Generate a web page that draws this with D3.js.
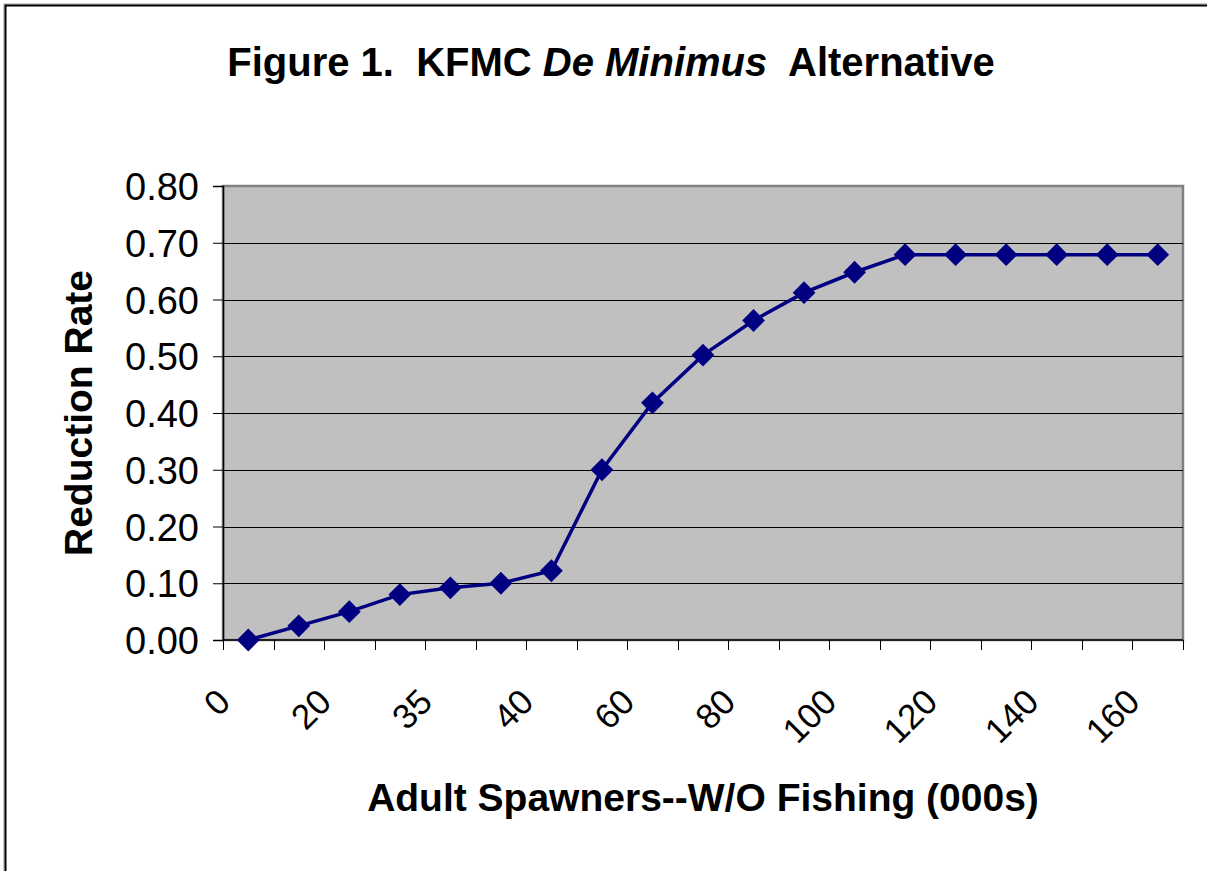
<!DOCTYPE html>
<html>
<head>
<meta charset="utf-8">
<script src="https://cdn.jsdelivr.net/npm/d3@7"></script>
<style>
  body { margin: 0; background: #fff; }
  svg text { font-family: "Liberation Sans", Arial, sans-serif; }
</style>
</head>
<body>
<div id="chart"></div>
<script>
// spawner categories (000s), only every other one is labelled on the axis
const categories = ["0", "10", "20", "30", "35", "38", "40", "50", "60", "70",
                    "80", "90", "100", "110", "120", "130", "140", "150", "160"];
const reduction = [0.00, 0.025, 0.05, 0.08, 0.092, 0.10, 0.122, 0.30, 0.418, 0.502,
                   0.563, 0.612, 0.648, 0.679, 0.679, 0.679, 0.679, 0.679, 0.679];
const yTicks = [0, 0.1, 0.2, 0.3, 0.4, 0.5, 0.6, 0.7, 0.8];

const W = 1207, H = 871;
const svg = d3.select("#chart").append("svg").attr("width", W).attr("height", H);

// outer chart border (runs off the bottom / right of the picture)
svg.append("rect").attr("x", 4).attr("y", 4).attr("width", W + 10).attr("height", H + 10)
    .attr("fill", "none").attr("stroke", "#999").attr("stroke-width", 1);
svg.append("rect").attr("x", 5.5).attr("y", 5.5).attr("width", W + 10).attr("height", H + 10)
    .attr("fill", "none").attr("stroke", "#000").attr("stroke-width", 2);

const pLeft = 223, pRight = 1183, pTop = 186, pBottom = 640;

const x = d3.scaleBand().domain(categories).range([pLeft, pRight]);
const y = d3.scaleLinear().domain([0, 0.8]).range([pBottom, pTop]);
const cx = d => x(d) + x.bandwidth() / 2;

// plot area
svg.append("rect")
    .attr("x", pLeft).attr("y", pTop)
    .attr("width", pRight - pLeft).attr("height", pBottom - pTop)
    .attr("fill", "#c0c0c0")
    .attr("stroke", "#808080")
    .attr("stroke-width", 2.5);

// gridlines
svg.append("g")
    .selectAll("line")
    .data(yTicks.slice(1, -1))
    .join("line")
    .attr("x1", pLeft).attr("x2", pRight)
    .attr("y1", d => Math.round(y(d)) + 0.5).attr("y2", d => Math.round(y(d)) + 0.5)
    .attr("stroke", "#000").attr("stroke-width", 1);

// y axis
svg.append("g")
    .attr("transform", `translate(${pLeft}, 0)`)
    .call(d3.axisLeft(y).tickValues(yTicks).tickFormat(d3.format(".2f")).tickSize(10).tickPadding(14))
    .call(g => g.selectAll(".tick line").attr("stroke", "#000"))
    .call(g => g.select(".domain").attr("stroke", "#000").attr("stroke-width", 1.5))
    .call(g => g.selectAll(".tick text")
        .attr("fill", "#000")
        .style("font-size", "38px")
        .attr("dy", "0.36em"));

// x axis: line, ticks between categories, every other label
const gx = svg.append("g");
gx.append("line")
    .attr("x1", pLeft).attr("x2", pRight)
    .attr("y1", pBottom).attr("y2", pBottom)
    .attr("stroke", "#000").attr("stroke-width", 1.5);
gx.selectAll(".xtick")
    .data(categories.map(c => x(c)).concat([pRight]))
    .join("line")
    .attr("class", "xtick")
    .attr("x1", d => Math.round(d) + 0.5).attr("x2", d => Math.round(d) + 0.5)
    .attr("y1", pBottom).attr("y2", pBottom + 10)
    .attr("stroke", "#000");
gx.selectAll(".xlabel")
    .data(categories.filter((_, i) => i % 2 === 0))
    .join("text")
    .attr("class", "xlabel")
    .attr("transform", d => `translate(${cx(d) - 16}, 704) rotate(-45)`)
    .attr("text-anchor", "end")
    .style("font-size", "35px")
    .text(d => d);

// series line + diamond markers
const line = d3.line().x((_, i) => cx(categories[i])).y(d => y(d));
svg.append("path")
    .datum(reduction)
    .attr("d", line)
    .attr("fill", "none")
    .attr("stroke", "#000080")
    .attr("stroke-width", 3.5);

svg.append("g")
    .selectAll("path")
    .data(reduction)
    .join("path")
    .attr("transform", (d, i) => `translate(${cx(categories[i])}, ${y(d)}) rotate(45)`)
    .attr("d", d3.symbol(d3.symbolSquare, 260))
    .attr("fill", "#000080");

// titles
const title = svg.append("text")
    .attr("x", 611).attr("y", 76)
    .attr("text-anchor", "middle")
    .style("font-size", "40px")
    .style("font-weight", "bold")
    .style("white-space", "pre");
title.append("tspan").text("Figure 1.  KFMC ");
title.append("tspan").style("font-style", "italic").text("De Minimus");
title.append("tspan").text("  Alternative");

svg.append("text")
    .attr("transform", `translate(92, ${(pTop + pBottom) / 2}) rotate(-90)`)
    .attr("text-anchor", "middle")
    .style("font-size", "39px")
    .style("font-weight", "bold")
    .text("Reduction Rate");

svg.append("text")
    .attr("x", (pLeft + pRight) / 2).attr("y", 811)
    .attr("text-anchor", "middle")
    .style("font-size", "39px")
    .style("font-weight", "bold")
    .text("Adult Spawners--W/O Fishing (000s)");
</script>
</body>
</html>
